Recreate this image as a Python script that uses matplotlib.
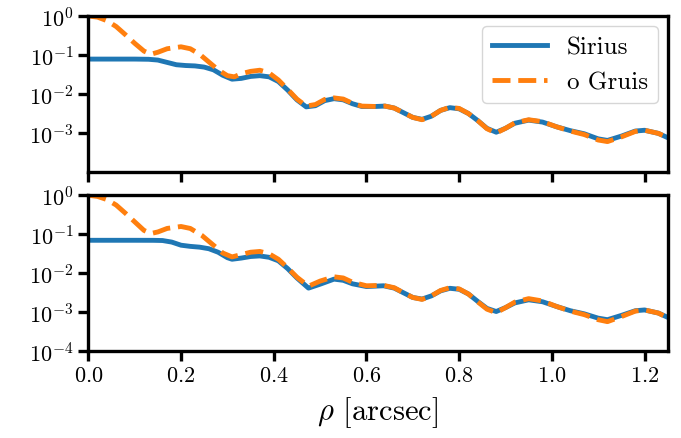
import matplotlib

matplotlib.use("Agg")
import matplotlib.pyplot as plt
import numpy as np

plt.rcParams["font.family"] = ["cmr10", "DejaVu Serif"]
plt.rcParams["mathtext.fontset"] = "cm"
plt.rcParams["axes.formatter.use_mathtext"] = True
plt.rcParams["axes.unicode_minus"] = False

# rho [arcsec] and log10 of contrast
rho_sirius_top = [0.00, 0.05, 0.10, 0.13, 0.15, 0.17, 0.19, 0.21, 0.23, 0.25,
                  0.27, 0.29, 0.31, 0.33, 0.35, 0.37, 0.39, 0.41, 0.43, 0.45,
                  0.47, 0.49, 0.51, 0.53, 0.55, 0.57, 0.59, 0.62, 0.64, 0.66,
                  0.68, 0.70, 0.72, 0.74, 0.76, 0.78, 0.80, 0.82, 0.84, 0.86,
                  0.88, 0.90, 0.92, 0.95, 0.98, 1.01, 1.04, 1.07, 1.10, 1.12,
                  1.15, 1.18, 1.20, 1.23, 1.25]
log_sirius_top = [-1.105, -1.105, -1.105, -1.11, -1.13, -1.19, -1.25, -1.27,
                  -1.28, -1.31, -1.38, -1.52, -1.62, -1.60, -1.55, -1.53,
                  -1.56, -1.68, -1.90, -2.15, -2.33, -2.30, -2.17, -2.12,
                  -2.15, -2.25, -2.32, -2.32, -2.31, -2.36, -2.48, -2.60,
                  -2.65, -2.57, -2.42, -2.35, -2.38, -2.50, -2.68, -2.88,
                  -2.98, -2.88, -2.75, -2.67, -2.72, -2.84, -2.94, -3.02,
                  -3.15, -3.19, -3.08, -2.95, -2.93, -3.01, -3.12]

rho_gruis_top = [0.00, 0.02, 0.04, 0.06, 0.08, 0.10, 0.12, 0.135, 0.15, 0.17,
                 0.20, 0.22, 0.24, 0.26, 0.28, 0.30, 0.315, 0.33, 0.35, 0.37,
                 0.39, 0.41, 0.43, 0.45, 0.47, 0.49, 0.51, 0.53, 0.55, 0.57,
                 0.59, 0.62, 0.64, 0.66, 0.68, 0.70, 0.72, 0.74, 0.76, 0.78,
                 0.80, 0.82, 0.84, 0.86, 0.88, 0.90, 0.92, 0.95, 0.98, 1.01,
                 1.04, 1.07, 1.10, 1.12, 1.15, 1.18, 1.20, 1.23, 1.25]
log_gruis_top = [0.0, -0.03, -0.12, -0.27, -0.48, -0.70, -0.90, -0.98, -0.93,
                 -0.84, -0.79, -0.84, -0.98, -1.18, -1.38, -1.53, -1.56,
                 -1.48, -1.42, -1.39, -1.46, -1.64, -1.88, -2.13, -2.31,
                 -2.27, -2.14, -2.10, -2.13, -2.24, -2.31, -2.32, -2.31,
                 -2.36, -2.48, -2.60, -2.66, -2.57, -2.42, -2.34, -2.37,
                 -2.50, -2.68, -2.89, -3.00, -2.88, -2.74, -2.66, -2.71,
                 -2.84, -2.95, -3.04, -3.18, -3.22, -3.10, -2.96, -2.93,
                 -3.01, -3.12]

rho_sirius_bot = [0.00, 0.05, 0.10, 0.14, 0.16, 0.18, 0.20, 0.22, 0.24, 0.26,
                  0.28, 0.30, 0.31, 0.33, 0.35, 0.37, 0.39, 0.41, 0.43, 0.45,
                  0.475, 0.50, 0.53, 0.55, 0.57, 0.60, 0.637, 0.66, 0.68,
                  0.70, 0.72, 0.74, 0.76, 0.78, 0.80, 0.82, 0.84, 0.86, 0.88,
                  0.90, 0.92, 0.95, 0.98, 1.01, 1.04, 1.07, 1.10, 1.12, 1.15,
                  1.18, 1.20, 1.23, 1.25]
log_sirius_bot = [-1.154, -1.154, -1.154, -1.155, -1.16, -1.20, -1.28,
                  -1.31, -1.33, -1.37, -1.46, -1.60, -1.64, -1.61, -1.57,
                  -1.555, -1.59, -1.68, -1.88, -2.12, -2.38, -2.28, -2.15,
                  -2.18, -2.27, -2.34, -2.32, -2.38, -2.50, -2.62, -2.66,
                  -2.58, -2.45, -2.385, -2.41, -2.53, -2.72, -2.90, -2.98,
                  -2.88, -2.76, -2.68, -2.73, -2.85, -2.96, -3.04, -3.15,
                  -3.19, -3.08, -2.96, -2.94, -3.02, -3.13]

rho_gruis_bot = [0.00, 0.02, 0.04, 0.06, 0.08, 0.10, 0.12, 0.135, 0.15, 0.17,
                 0.20, 0.22, 0.245, 0.27, 0.29, 0.31, 0.33, 0.35, 0.37, 0.39,
                 0.41, 0.43, 0.45, 0.475, 0.50, 0.53, 0.55, 0.57, 0.60,
                 0.637, 0.66, 0.68, 0.70, 0.72, 0.74, 0.76, 0.78, 0.80, 0.82,
                 0.84, 0.86, 0.88, 0.90, 0.92, 0.95, 0.98, 1.01, 1.04, 1.07,
                 1.10, 1.12, 1.15, 1.18, 1.20, 1.23, 1.25]
log_gruis_bot = [0.0, -0.03, -0.11, -0.25, -0.46, -0.68, -0.90, -0.98,
                 -0.94, -0.85, -0.80, -0.85, -1.03, -1.28, -1.48, -1.58,
                 -1.52, -1.46, -1.44, -1.50, -1.64, -1.86, -2.10, -2.33,
                 -2.20, -2.09, -2.12, -2.23, -2.32, -2.31, -2.37, -2.50,
                 -2.62, -2.67, -2.58, -2.44, -2.37, -2.40, -2.53, -2.73,
                 -2.92, -3.01, -2.88, -2.74, -2.65, -2.71, -2.85, -2.97,
                 -3.06, -3.19, -3.24, -3.11, -2.97, -2.94, -3.02, -3.14]

BLUE = "#1f77b4"
ORANGE = "#ff7f0e"

fig = plt.figure(figsize=(6.81, 4.39), dpi=100)
ax_top = fig.add_axes([0.1297, 0.6059, 0.8508, 0.3554])
ax_bot = fig.add_axes([0.1297, 0.1975, 0.8508, 0.3554], sharex=ax_top)

panels = [
    (ax_top, rho_sirius_top, log_sirius_top, rho_gruis_top, log_gruis_top),
    (ax_bot, rho_sirius_bot, log_sirius_bot, rho_gruis_bot, log_gruis_bot),
]
for ax, xs, ys, xg, yg in panels:
    ax.plot(xs, 10 ** np.array(ys), color=BLUE, lw=3.5, label="Sirius")
    ax.plot(xg, 10 ** np.array(yg), color=ORANGE, lw=3.5, ls="--",
            label="o Gruis")
    ax.set_yscale("log")
    ax.set_ylim(1e-4, 1)
    ax.set_xlim(0, 1.25)
    ax.minorticks_off()
    for s in ax.spines.values():
        s.set_linewidth(2.4)
    ax.tick_params(width=2.4, length=7, labelsize=16)

ax_top.set_yticks([1, 1e-1, 1e-2, 1e-3])
ax_bot.set_yticks([1, 1e-1, 1e-2, 1e-3, 1e-4])
ax_top.tick_params(labelbottom=False)
ax_bot.set_xticks([0.0, 0.2, 0.4, 0.6, 0.8, 1.0, 1.2])
ax_bot.set_xlabel(r"$\rho$ [arcsec]", fontsize=22, labelpad=6)

ax_top.legend(loc="upper right", fontsize=18, handlelength=2.2,
              borderaxespad=0.4)

fig.savefig("out.png", dpi=100)
